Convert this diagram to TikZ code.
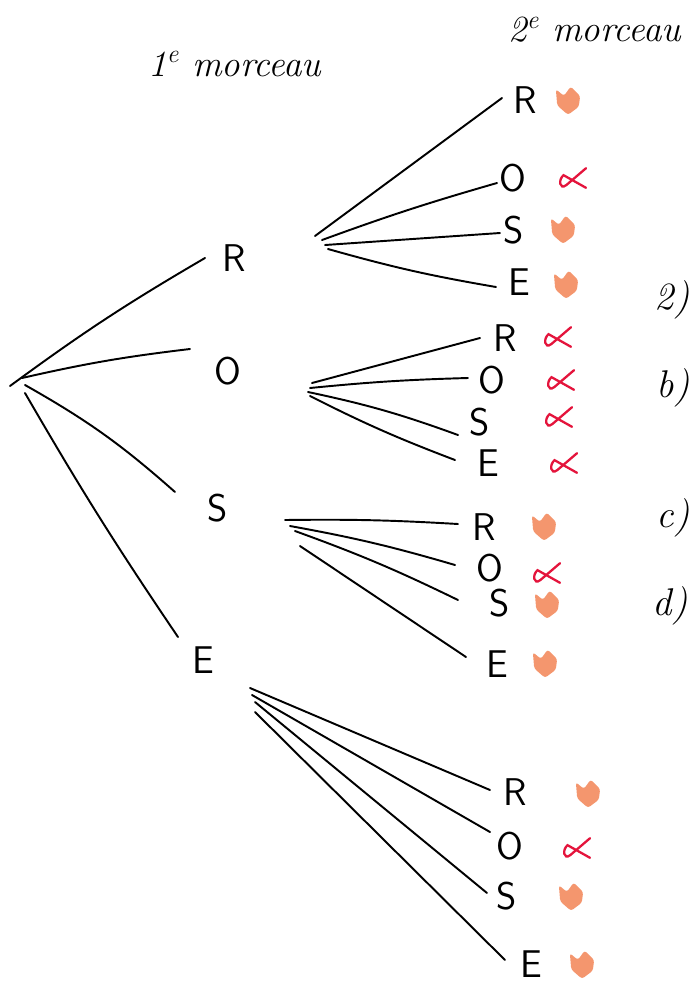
\documentclass[tikz,border=0pt]{standalone}
\begin{document}
\begin{tikzpicture}[x=0.02cm,y=-0.02cm,
  br/.style={line width=1.1pt, line cap=round},
  lab/.style={font=\sffamily\fontsize{22}{22}\selectfont, inner sep=0pt},
  head/.style={font=\itshape\fontsize{21}{21}\selectfont, inner sep=0pt, anchor=west},
  side/.style={font=\itshape\fontsize{22}{22}\selectfont, inner sep=0pt, anchor=east},
  blob/.pic={\fill[orangeblob, rounded corners=1.5pt, scale=1.35] (-9,-8) -- (-3,-3) -- (2,-10) -- (9,-3) -- (8,5) -- (0,11) -- (-8,4) -- cycle;},
  redx/.pic={\draw[redcross, line width=1.3pt, line cap=round, scale=1.4] (10,-7) -- (-4,5) .. controls (-9,9) and (-10,1) .. (-6,-2) -- (10,7);}
]
\definecolor{orangeblob}{RGB}{244,150,110}
\definecolor{redcross}{RGB}{228,20,60}
\useasboundingbox (0,0) rectangle (692,985);

% headers
\node[head] (h1) at (148,64) {1\textsuperscript{e} morceau};
\node[head] (h2) at (508,30) {2\textsuperscript{e} morceau};

% right margin texts
\node[side] (qa) at (690,300) {2)};
\node[side] (qb) at (690,388) {b)};
\node[side] (qc) at (690,518) {c)};
\node[side] (qd) at (688,606) {d)};

% level 1
\node[lab] (R) at (234,258) {R};
\node[lab] (O) at (228,371) {O};
\node[lab] (S) at (218,508) {S};
\node[lab] (E) at (203,660) {E};

\coordinate (o1) at (10,386);
\coordinate (o2) at (22,378);
\coordinate (o3) at (25,385);
\coordinate (o4) at (25,393);
\coordinate (eR) at (205,258);
\coordinate (eO) at (190,349);
\coordinate (eS) at (175,492);
\coordinate (eE) at (178,637);
\draw[br] (o1) to[bend left=3] (eR);
\draw[br] (o2) to[bend left=3] (eO);
\draw[br] (o3) to[bend left=6] (eS);
\draw[br] (o4) to[bend right=2] (eE);

% R group
\node[lab] (RR) at (525,100) {R};
\node[lab] (RO) at (513,178) {O};
\node[lab] (RS) at (514,230) {S};
\node[lab] (RE) at (519,282) {E};
\coordinate (r1) at (315,236); \coordinate (r1e) at (502,98);
\coordinate (r2) at (322,240); \coordinate (r2e) at (497,183);
\coordinate (r3) at (325,245); \coordinate (r3e) at (500,233);
\coordinate (r4) at (328,249); \coordinate (r4e) at (496,287);
\draw[br] (r1) -- (r1e);
\draw[br] (r2) to[bend left=2] (r2e);
\draw[br] (r3) -- (r3e);
\draw[br] (r4) to[bend right=3] (r4e);
\pic at (568,100) {blob};
\pic at (572,178) {redx};
\pic at (563,229) {blob};
\pic at (566,284) {blob};

% O group
\node[lab] (OR) at (505,338) {R};
\node[lab] (OO) at (492,380) {O};
\node[lab] (OS) at (480,422) {S};
\node[lab] (OE) at (488,463) {E};
\coordinate (p1) at (312,383); \coordinate (p1e) at (480,338);
\coordinate (p2) at (310,388); \coordinate (p2e) at (468,378);
\coordinate (p3) at (308,392); \coordinate (p3e) at (458,435);
\coordinate (p4) at (310,396); \coordinate (p4e) at (455,460);
\draw[br] (p1) -- (p1e);
\draw[br] (p2) to[bend left=2] (p2e);
\draw[br] (p3) to[bend left=4] (p3e);
\draw[br] (p4) to[bend right=3] (p4e);
\pic at (557,337) {redx};
\pic at (560,380) {redx};
\pic at (558,417) {redx};
\pic at (563,463) {redx};

% S group
\node[lab] (SR) at (484,527) {R};
\node[lab] (SO) at (490,568) {O};
\node[lab] (SS) at (500,603) {S};
\node[lab] (SE) at (497,664) {E};
\coordinate (s1) at (285,520); \coordinate (s1e) at (458,524);
\coordinate (s2) at (290,526); \coordinate (s2e) at (455,565);
\coordinate (s3) at (295,531); \coordinate (s3e) at (458,600);
\coordinate (s4) at (300,546); \coordinate (s4e) at (466,657);
\draw[br] (s1) to[bend left=2] (s1e);
\draw[br] (s2) to[bend left=3] (s2e);
\draw[br] (s3) to[bend left=3] (s3e);
\draw[br] (s4) -- (s4e);
\pic at (544,526) {blob};
\pic at (546,573) {redx};
\pic at (547,604) {blob};
\pic at (545,663) {blob};

% E group
\node[lab] (ER) at (515,792) {R};
\node[lab] (EO) at (510,846) {O};
\node[lab] (ES) at (507,896) {S};
\node[lab] (EE) at (531,964) {E};
\coordinate (e1) at (250,688); \coordinate (e1e) at (490,790);
\coordinate (e2) at (252,695); \coordinate (e2e) at (490,832);
\coordinate (e3) at (255,702); \coordinate (e3e) at (487,893);
\coordinate (e4) at (255,712); \coordinate (e4e) at (505,960);
\draw[br] (e1) -- (e1e);
\draw[br] (e2) -- (e2e);
\draw[br] (e3) -- (e3e);
\draw[br] (e4) -- (e4e);
\pic at (588,793) {blob};
\pic at (576,848) {redx};
\pic at (571,896) {blob};
\pic at (582,964) {blob};
\end{tikzpicture}
\end{document}
